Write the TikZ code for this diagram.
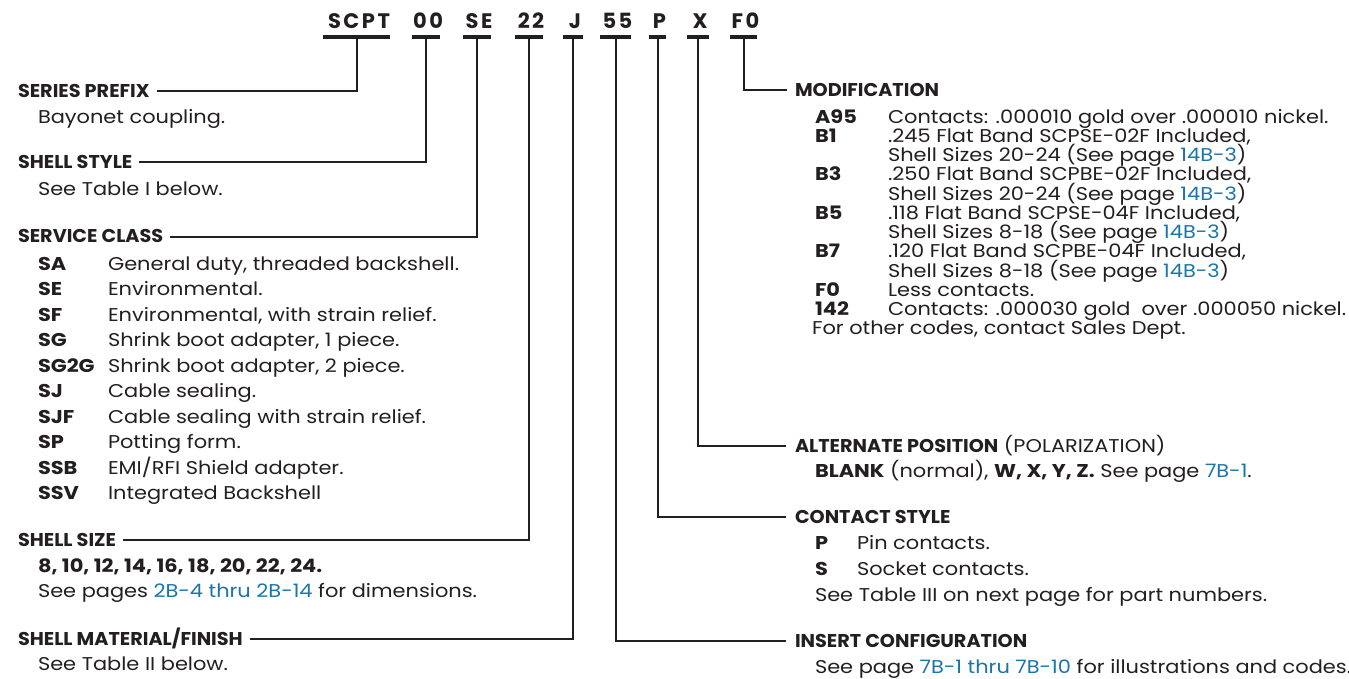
\documentclass[tikz,border=0pt]{standalone}
\usepackage{fontspec}
\usepackage{graphicx}
\setmainfont{Poppins}[FakeStretch=1.13]
\newfontfamily\codefont{Poppins}[LetterSpace=12]
\definecolor{txt}{RGB}{35,31,32}
\definecolor{lnk}{RGB}{27,117,168}
\newcommand{\lk}[1]{\textcolor{lnk}{#1}}
\newcommand{\hd}[1]{\scalebox{0.92}[1]{\bfseries #1}}
\begin{document}
\begin{tikzpicture}[x=1pt,y=-1pt,
  every node/.style={inner sep=0pt, outer sep=0pt, text=txt},
  code/.style={font=\codefont\fontsize{21}{21}\bfseries\selectfont, anchor=base},
  hbar/.style={fill=txt, minimum height=4.5pt, minimum width=#1, anchor=center},
  lead/.style={draw=txt, line width=2pt},
  head/.style={font=\fontsize{18.5}{18.5}\selectfont, anchor=base west, text height=13pt, text depth=0pt},
  body/.style={font=\fontsize{18.5}{18.5}\selectfont, anchor=base west},
  rbody/.style={font=\fontsize{18.5}{18.5}\selectfont, anchor=base west},
]
\useasboundingbox[fill=white] (0,0) rectangle (1349,679);

% ---- code header ----
\node[code] (c1) at (359,28.5) {SCPT};
\node[code] (c2) at (428,28.5) {00};
\node[code] (c3) at (479,28.5) {SE};
\node[code] (c4) at (531,28.5) {22};
\node[code] (c5) at (575,28.5) {J};
\node[code] (c6) at (617.5,28.5) {55};
\node[code] (c7) at (659.5,28.5) {P};
\node[code] (c8) at (700,28.5) {X};
\node[code] (c9) at (745.5,28.5) {F0};
\node[hbar=67pt] (b1) at (356.5,37) {};
\node[hbar=28pt] (b2) at (426,37) {};
\node[hbar=28pt] (b3) at (477,37) {};
\node[hbar=28pt] (b4) at (529,37) {};
\node[hbar=20pt] (b5) at (573,37) {};
\node[hbar=31pt] (b6) at (615.5,37) {};
\node[hbar=17pt] (b7) at (657.5,37) {};
\node[hbar=22pt] (b8) at (698,37) {};
\node[hbar=27pt] (b9) at (743.5,37) {};

% ---- left column ----
\node[head] (sp) at (18,98) {\hd{SERIES PREFIX}};
\node[body] (spd) at (38,124) {Bayonet coupling.};

\node[head] (ss) at (18,169) {\hd{SHELL STYLE}};
\node[body] (ssd) at (38,196) {See Table I below.};

\node[head] (sc) at (18,243) {\hd{SERVICE CLASS}};
\node[body] (k1) at (38,270) {\bfseries SA};
\node[body] (d1) at (108,270) {General duty, threaded backshell.};
\node[body] (k2) at (38,295.5) {\bfseries SE};
\node[body] (d2) at (108,295.5) {Environmental.};
\node[body] (k3) at (38,321) {\bfseries SF};
\node[body] (d3) at (108,321) {Environmental, with strain relief.};
\node[body] (k4) at (38,346.5) {\bfseries SG};
\node[body] (d4) at (108,346.5) {Shrink boot adapter, 1 piece.};
\node[body] (k5) at (38,372) {\bfseries SG2G};
\node[body] (d5) at (108,372) {Shrink boot adapter, 2 piece.};
\node[body] (k6) at (38,397.5) {\bfseries SJ};
\node[body] (d6) at (108,397.5) {Cable sealing.};
\node[body] (k7) at (38,423) {\bfseries SJF};
\node[body] (d7) at (108,423) {Cable sealing with strain relief.};
\node[body] (k8) at (38,448.5) {\bfseries SP};
\node[body] (d8) at (108,448.5) {Potting form.};
\node[body] (k9) at (38,474) {\bfseries SSB};
\node[body] (d9) at (108,474) {EMI/RFI Shield adapter.};
\node[body] (k10) at (38,499.5) {\bfseries SSV};
\node[body] (d10) at (108,499.5) {Integrated Backshell};

\node[head] (sz) at (18,546) {\hd{SHELL SIZE}};
\node[body] (szv) at (38,572) {\bfseries 8, 10, 12, 14, 16, 18, 20, 22, 24.};
\node[body] (szd) at (38,597) {See pages \lk{2B-4 thru 2B-14} for dimensions.};

\node[head] (sm) at (18,645) {\hd{SHELL MATERIAL/FINISH}};
\node[body] (smd) at (38,670) {See Table II below.};

% ---- right column ----
\node[head] (md) at (795,97) {\hd{MODIFICATION}};
\node[rbody] (m1k) at (815,123.3) {\bfseries A95};
\node[rbody] (m1d) at (888,123.3) {Contacts: .000010 gold over .000010 nickel.};
\node[rbody] (m2k) at (815,142.5) {\bfseries B1};
\node[rbody] (m2d) at (888,142.5) {.245 Flat Band SCPSE-02F Included,};
\node[rbody] (m2e) at (888,161.7) {Shell Sizes 20-24 (See page \lk{14B-3})};
\node[rbody] (m3k) at (815,181) {\bfseries B3};
\node[rbody] (m3d) at (888,181) {.250 Flat Band SCPBE-02F Included,};
\node[rbody] (m3e) at (888,200.2) {Shell Sizes 20-24 (See page \lk{14B-3})};
\node[rbody] (m4k) at (815,219.4) {\bfseries B5};
\node[rbody] (m4d) at (888,219.4) {.118 Flat Band SCPSE-04F Included,};
\node[rbody] (m4e) at (888,238.6) {Shell Sizes 8-18 (See page \lk{14B-3})};
\node[rbody] (m5k) at (815,257.8) {\bfseries B7};
\node[rbody] (m5d) at (888,257.8) {.120 Flat Band SCPBE-04F Included,};
\node[rbody] (m5e) at (888,277) {Shell Sizes 8-18 (See page \lk{14B-3})};
\node[rbody] (m6k) at (815,296.2) {\bfseries F0};
\node[rbody] (m6d) at (888,296.2) {Less contacts.};
\node[rbody] (m7k) at (815,315.4) {\bfseries 142};
\node[rbody] (m7d) at (888,315.4) {Contacts: .000030 gold\hspace{0.3em} over .000050 nickel.};
\node[rbody] (m8) at (812,334.6) {For other codes, contact Sales Dept.};

\node[head] (ap) at (795,452.5) {\hd{ALTERNATE POSITION} (POLARIZATION)};
\node[body] (apd) at (815,477.5) {\textbf{BLANK} (normal), \textbf{W, X, Y, Z.} See page \lk{7B-1}.};

\node[head] (cs) at (795,523.5) {\hd{CONTACT STYLE}};
\node[body] (cpk) at (815,549.5) {\bfseries P};
\node[body] (cpd) at (857,549.5) {Pin contacts.};
\node[body] (csk) at (815,575.5) {\bfseries S};
\node[body] (csd) at (857,575.5) {Socket contacts.};
\node[body] (cst) at (815,601.5) {See Table III on next page for part numbers.};

\node[head] (ic) at (795,647.5) {\hd{INSERT CONFIGURATION}};
\node[body] (icd) at (815,673.5) {See page \lk{7B-1 thru 7B-10} for illustrations and codes.};

% ---- leader lines ----
\draw[lead] (b1.south) |- ([xshift=7pt]sp.east);
\draw[lead] (b2.south) |- ([xshift=7pt]ss.east);
\draw[lead] (b3.south) |- ([xshift=7pt]sc.east);
\draw[lead] (b4.south) |- ([xshift=7pt]sz.east);
\draw[lead] (b5.south) |- ([xshift=7pt]sm.east);
\draw[lead] (b6.south) |- ([xshift=-9pt]ic.west);
\draw[lead] (b7.south) |- ([xshift=-9pt]cs.west);
\draw[lead] (b8.south) |- ([xshift=-9pt]ap.west);
\draw[lead] (b9.south) |- ([xshift=-8pt]md.west);
\end{tikzpicture}
\end{document}
